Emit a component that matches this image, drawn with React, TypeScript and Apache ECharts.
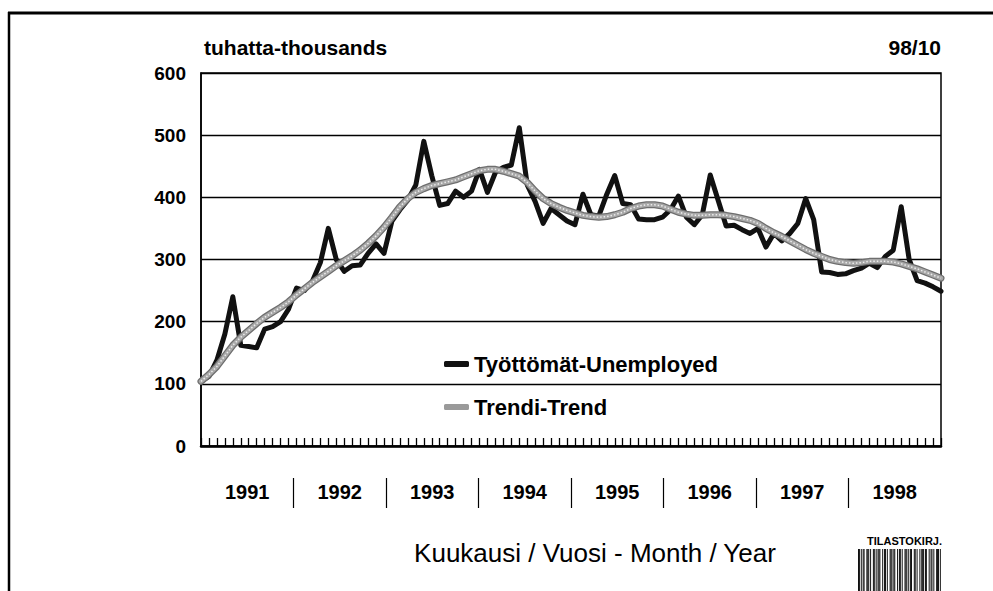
import React, { useEffect, useRef } from "react";
import * as echarts from "echarts";

// ---- data ----
const yearLabels = ["1991", "1992", "1993", "1994", "1995", "1996", "1997", "1998"];
const monthNums = ["01", "02", "03", "04", "05", "06", "07", "08", "09", "10", "11", "12"];
const lastMonthIndex1998 = 9; // October 1998 (98/10)

// Työttömät - Unemployed, thousands, Jan 1991 .. Oct 1998
const unemployed = [
  104, 112, 138, 180, 240, 162, 160, 158, 188, 192, 200, 220,
  254, 250, 265, 295, 350, 300, 281, 290, 291, 310, 325, 310,
  362, 380, 396, 420, 490, 435, 387, 390, 410, 400, 410, 445,
  408, 440, 448, 452, 512, 420, 393, 358, 382, 372, 362, 356,
  405, 372, 370, 405, 435, 390, 388, 365, 364, 364, 368, 380,
  402, 368, 356, 372, 436, 395, 354, 355, 348, 342, 350, 320,
  342, 330, 342, 358, 398, 364, 280, 279, 276, 277, 282, 286,
  294, 287, 305, 315, 385, 300, 266, 262, 256, 249,
];

// Trendi - Trend
const trend = [
  104, 115, 128, 145, 162, 175, 186, 197, 207, 215, 223, 232,
  243, 253, 263, 272, 281, 290, 298, 306, 315, 326, 338, 352,
  368, 385, 398, 408, 414, 419, 422, 425, 428, 433, 438, 443,
  445, 445, 442, 438, 434, 424, 410, 398, 390, 384, 379, 375,
  371, 369, 368, 369, 372, 376, 382, 386, 388, 388, 386, 381,
  376, 373, 371, 371, 372, 372, 371, 369, 366, 363, 358, 350,
  343, 337, 330, 323, 316, 310, 305, 300, 297, 295, 294, 295,
  297, 297, 297, 296, 293, 289, 285, 280, 275, 270,
];

const yMin = 0;
const yMax = 600;
const yStep = 100;

const seriesNames = ["Työttömät-Unemployed", "Trendi-Trend"];
const unitLabel = "tuhatta-thousands";
const dateLabel = "98/10";
const xTitle = "Kuukausi / Vuosi - Month / Year";
const stampLabel = "TILASTOKIRJ.";

// barcode decoration pattern (1 = dark column)
const barcodePattern =
  "110101100111010011010111001011010011101100101101001110101100110100101110110010110100111010";

const months: string[] = [];
yearLabels.forEach((y, yi) => {
  monthNums.forEach((m, mi) => {
    if (yi === yearLabels.length - 1 && mi > lastMonthIndex1998) return;
    months.push(y + "-" + m);
  });
});

const FONT = '"Liberation Sans", Arial, sans-serif';

export default function App() {
  const ref = useRef<HTMLDivElement>(null);
  useEffect(() => {
    if (!ref.current) return;
    const chart = echarts.init(ref.current, undefined, { renderer: "svg" });

    const barRects: any[] = [];
    for (let i = 0; i < barcodePattern.length; i++) {
      if (barcodePattern[i] === "1") {
        barRects.push({
          type: "rect",
          shape: { x: 858 + i * 0.93, y: 549, width: 1, height: 42 },
          style: { fill: "#111" },
        });
      }
    }

    chart.setOption({
      animation: false,
      backgroundColor: "#fff",
      textStyle: { fontFamily: FONT },
      title: [
        {
          text: unitLabel,
          left: 204,
          top: 37,
          padding: 0,
          textStyle: { fontFamily: FONT, fontSize: 21, fontWeight: "bold", color: "#000" },
        },
        {
          text: dateLabel,
          right: 52,
          top: 37,
          padding: 0,
          textStyle: { fontFamily: FONT, fontSize: 21, fontWeight: "bold", color: "#000" },
        },
        {
          text: stampLabel,
          right: 51,
          top: 535,
          padding: 0,
          textStyle: { fontFamily: FONT, fontSize: 11, fontWeight: "bold", color: "#000" },
        },
      ],
      legend: {
        orient: "vertical",
        left: 439,
        top: 347,
        itemWidth: 25,
        itemHeight: 6,
        itemGap: 19,
        data: [
          { name: seriesNames[0], icon: "roundRect", itemStyle: { color: "#111" } },
          { name: seriesNames[1], icon: "roundRect", itemStyle: { color: "#9a9a9a" } },
        ],
        textStyle: { fontFamily: FONT, fontSize: 22, fontWeight: "bold", color: "#000", lineHeight: 24 },
      },
      grid: [
        {
          left: 201,
          right: 52,
          top: 73,
          bottom: 145,
          show: true,
          borderColor: "#000",
          borderWidth: 1.5,
          backgroundColor: "transparent",
        },
        { left: 201, right: 52, top: 478, bottom: 83 },
      ],
      xAxis: [
        {
          type: "category",
          gridIndex: 0,
          data: months,
          boundaryGap: false,
          axisLine: { show: true, lineStyle: { color: "#000", width: 2.5 } },
          axisTick: { show: true, inside: true, length: 8, interval: 0, lineStyle: { color: "#000", width: 1.3 } },
          axisLabel: { show: false },
          splitLine: { show: false },
        },
        {
          type: "category",
          gridIndex: 1,
          data: yearLabels,
          boundaryGap: true,
          axisLine: { show: false },
          axisTick: { show: false },
          axisLabel: {
            interval: 0,
            margin: -26,
            fontFamily: FONT,
            fontSize: 20,
            fontWeight: "bold",
            color: "#000",
          },
          splitLine: {
            show: true,
            interval: 0,
            showMinLine: false,
            showMaxLine: false,
            lineStyle: { color: "#000", width: 1.2 },
          },
        },
      ],
      yAxis: [
        {
          type: "value",
          gridIndex: 0,
          min: yMin,
          max: yMax,
          interval: yStep,
          axisLine: { show: true, lineStyle: { color: "#000", width: 1.5 } },
          axisTick: { show: false },
          axisLabel: {
            margin: 15,
            fontFamily: FONT,
            fontSize: 19,
            fontWeight: "bold",
            color: "#000",
          },
          splitLine: { show: true, lineStyle: { color: "#000", width: 1.4 } },
        },
        { type: "value", gridIndex: 1, show: false, min: 0, max: 1 },
      ],
      series: [
        {
          name: seriesNames[0],
          type: "line",
          data: unemployed,
          xAxisIndex: 0,
          yAxisIndex: 0,
          symbol: "none",
          lineStyle: { color: "#111", width: 5, join: "round", cap: "round" },
          itemStyle: { color: "#111" },
          z: 3,
        },
        {
          name: seriesNames[1],
          type: "line",
          data: trend,
          xAxisIndex: 0,
          yAxisIndex: 0,
          symbol: "none",
          silent: true,
          lineStyle: { color: "#6e6e6e", width: 7, join: "round", cap: "round" },
          itemStyle: { color: "#9a9a9a" },
          z: 4,
        },
        {
          name: seriesNames[1],
          type: "line",
          data: trend,
          xAxisIndex: 0,
          yAxisIndex: 0,
          symbol: "none",
          silent: true,
          lineStyle: { color: "#a8a8a8", width: 4.5, join: "round", cap: "round" },
          z: 5,
        },
        {
          name: seriesNames[1],
          type: "line",
          data: trend,
          xAxisIndex: 0,
          yAxisIndex: 0,
          symbol: "none",
          silent: true,
          lineStyle: { color: "#ececec", width: 1.5, type: [1.5, 2] },
          z: 6,
        },
      ],
      graphic: [
        { type: "line", shape: { x1: 8, y1: 13, x2: 993, y2: 13 }, style: { stroke: "#000", lineWidth: 3 } },
        { type: "line", shape: { x1: 9, y1: 12, x2: 9, y2: 591 }, style: { stroke: "#000", lineWidth: 2.5 } },
        {
          type: "text",
          x: 595,
          y: 553,
          style: {
            text: xTitle,
            fontFamily: FONT,
            fontSize: 26,
            fontWeight: "normal",
            fill: "#000",
            align: "center",
            verticalAlign: "middle",
          },
        },
        { type: "group", children: barRects },
      ],
    });
    return () => chart.dispose();
  }, []);
  return <div ref={ref} style={{ position: "absolute", left: 0, top: 0, width: 993, height: 591 }} />;
}
